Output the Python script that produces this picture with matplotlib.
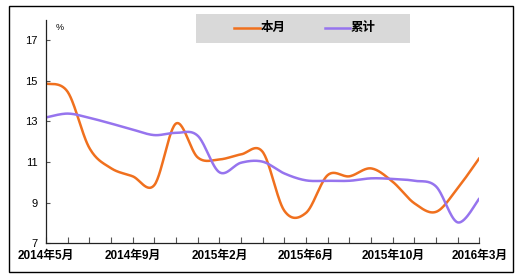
import numpy as np
import matplotlib
matplotlib.use('Agg')
import matplotlib.pyplot as plt
from matplotlib.patches import Rectangle
from matplotlib.lines import Line2D

plt.rcParams['font.family'] = ['Liberation Sans', 'Noto Sans CJK SC', 'DejaVu Sans']

# months shown on the category axis (January is merged into February)
months = ['2014年5月', '2014年6月', '2014年7月', '2014年8月', '2014年9月',
          '2014年10月', '2014年11月', '2014年12月', '2015年2月', '2015年3月',
          '2015年4月', '2015年5月', '2015年6月', '2015年7月', '2015年8月',
          '2015年9月', '2015年10月', '2015年11月', '2015年12月', '2016年2月',
          '2016年3月']
benyue = [14.87, 14.46, 11.7, 10.7, 10.3, 9.87, 12.9, 11.23, 11.13, 11.38, 11.5,
          8.6, 8.5, 10.36, 10.3, 10.69, 10.03, 8.97, 8.55, 9.72, 11.2]
leiji = [13.2, 13.39, 13.18, 12.9, 12.6, 12.33, 12.44, 12.3, 10.5, 10.97, 11.02,
         10.44, 10.1, 10.08, 10.08, 10.2, 10.17, 10.08, 9.8, 8.03, 9.21]
label_every = 4
yticks = [7, 9, 11, 13, 15, 17]

c_orange = '#F0701E'
c_purple = '#9674EE'


def smooth(y, n=30):
    # excel-like smoothed line (bezier through the points)
    y = np.asarray(y, float)
    x = np.arange(len(y), dtype=float)
    xs, ys = [], []
    t = np.linspace(0, 1, n)
    for i in range(len(y) - 1):
        i0 = max(i - 1, 0)
        i3 = min(i + 2, len(y) - 1)
        for arr, out in ((x, xs), (y, ys)):
            p0, p1, p2, p3 = arr[i0], arr[i], arr[i + 1], arr[i3]
            b1 = p1 + (p2 - p0) / 6
            b2 = p2 - (p3 - p1) / 6
            seg = ((1 - t) ** 3 * p1 + 3 * (1 - t) ** 2 * t * b1
                   + 3 * (1 - t) * t ** 2 * b2 + t ** 3 * p2)
            out.extend(seg if i == 0 else seg[1:])
    return np.array(xs), np.array(ys)


fig = plt.figure(figsize=(5.25, 2.8), dpi=100)
ax = fig.add_axes([46 / 525, 1 - 243.3 / 280, (479.4 - 46) / 525, (243.3 - 20) / 280])

xs, ys = smooth(benyue)
ax.plot(xs, ys, color=c_orange, lw=1.8, solid_capstyle='round')
xs, ys = smooth(leiji)
ax.plot(xs, ys, color=c_purple, lw=1.8, solid_capstyle='round')

ax.set_xlim(0, len(months) - 1)
ax.set_ylim(7, 18)
ax.set_yticks(yticks)
ax.set_xticks(range(len(months)))
ax.set_xticklabels([m if i % label_every == 0 else '' for i, m in enumerate(months)],
                   fontsize=8.5, fontweight='bold')
ax.tick_params(axis='x', direction='in', length=4, pad=5, width=0.8, color='#555555')
ax.tick_params(axis='y', direction='in', length=3, pad=6, width=0.8, color='#555555',
               labelsize=8)
for s in ['top', 'right']:
    ax.spines[s].set_visible(False)
for s in ['left', 'bottom']:
    ax.spines[s].set_color('#222222')
    ax.spines[s].set_linewidth(0.9)

fig.text(56 / 525, 1 - 27 / 280, '%', fontsize=6.5, va='center', ha='left')

# legend box
fig.patches.append(Rectangle((196 / 525, 1 - 43 / 280), 214 / 525, 29 / 280,
                             transform=fig.transFigure, facecolor='#D9D9D9',
                             edgecolor='none', zorder=0))
ly = 1 - 28 / 280
fig.lines.append(Line2D([234 / 525, 260 / 525], [ly, ly], transform=fig.transFigure,
                        color=c_orange, lw=1.8))
fig.text(261 / 525, ly, '本月', fontsize=9, fontweight='bold', va='center', ha='left')
fig.lines.append(Line2D([325 / 525, 350 / 525], [ly, ly], transform=fig.transFigure,
                        color=c_purple, lw=1.8))
fig.text(351 / 525, ly, '累计', fontsize=9, fontweight='bold', va='center', ha='left')

# outer chart border
fig.patches.append(Rectangle((9 / 525, 1 - 272 / 280), 504 / 525, 266 / 280,
                             transform=fig.transFigure, facecolor='none',
                             edgecolor='black', lw=1.0))

fig.savefig('out.png', dpi=100)
